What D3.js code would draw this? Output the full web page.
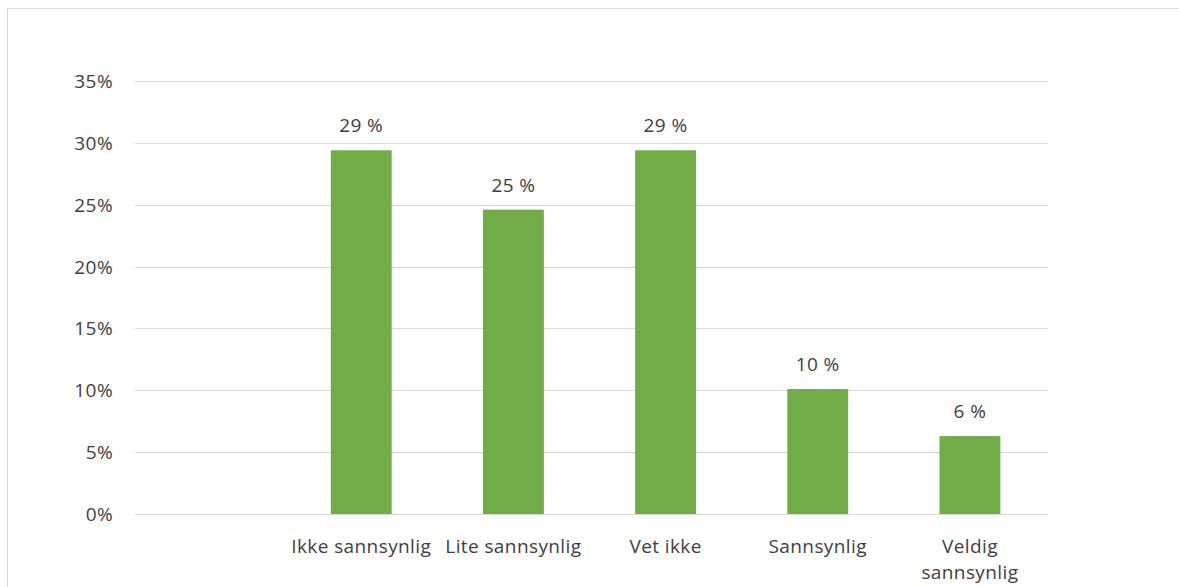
<html>
<head>
    <style>
        body { margin: 0; background: white; font-family: "Open Sans", sans-serif; }
        svg { display: block; }
        text { letter-spacing: 0.4px; }
    </style>
    <script src="https://cdn.jsdelivr.net/npm/d3@7"></script>
</head>
<body>
<svg id="chart"></svg>
<script>

    // categories (first slot is empty in the original chart)
    let categories = ["", "Ikke sannsynlig", "Lite sannsynlig", "Vet ikke", "Sannsynlig", "Veldig sannsynlig"]
    let values = [null, 0.294, 0.246, 0.294, 0.101, 0.063]
    let valueLabels = ["", "29 %", "25 %", "29 %", "10 %", "6 %"]
    let yTicks = [0, 0.05, 0.10, 0.15, 0.20, 0.25, 0.30, 0.35]

    let width = 1179
    let height = 587
    let margin = {top: 81, left: 135, right: 131, bottom: 73}

    let svg = d3.select("#chart")
        .attr("width", width)
        .attr("height", height)

    // chart area border (top and left visible)
    svg.append("line").attr("x1", 7).attr("x2", width).attr("y1", 8.5).attr("y2", 8.5)
        .attr("stroke", "#d9d9d9")
    svg.append("line").attr("x1", 7.5).attr("x2", 7.5).attr("y1", 8).attr("y2", height)
        .attr("stroke", "#d9d9d9")

    let x = d3.scaleBand()
        .domain(categories.map((c, i) => i))
        .range([margin.left - 2, width - margin.right - 2])
        .paddingInner(0.6)
        .paddingOuter(0.3)

    let y = d3.scaleLinear()
        .domain([0, 0.35])
        .range([height - margin.bottom, margin.top])

    // gridlines
    svg.append("g").selectAll("line").data(yTicks)
        .enter().append("line")
        .attr("x1", margin.left)
        .attr("x2", width - margin.right)
        .attr("y1", d => Math.round(y(d)) + 0.5)
        .attr("y2", d => Math.round(y(d)) + 0.5)
        .attr("stroke", "#d9d9d9")
        .attr("stroke-width", 1)

    // y axis labels
    svg.append("g").selectAll("text").data(yTicks)
        .enter().append("text")
        .attr("x", 113)
        .attr("y", d => y(d) + 7)
        .attr("text-anchor", "end")
        .attr("fill", "#404040")
        .style("font-size", "19px")
        .text(d => Math.round(d * 100) + "%")

    let data = categories.map((c, i) => ({i: i, name: c, value: values[i], label: valueLabels[i]}))
        .filter(d => d.value != null)

    svg.append("g").selectAll("rect").data(data)
        .enter().append("rect")
        .attr("x", d => x(d.i))
        .attr("width", x.bandwidth())
        .attr("y", d => y(d.value))
        .attr("height", d => y(0) - y(d.value))
        .attr("fill", "#70ad47")

    svg.append("g").selectAll("text").data(data)
        .enter().append("text")
        .attr("x", d => x(d.i) + x.bandwidth() / 2)
        .attr("y", d => y(d.value) - 18)
        .attr("text-anchor", "middle")
        .attr("fill", "#404040")
        .style("font-size", "19px")
        .text(d => d.label)

    // category labels, wrapped like the original
    let labelLines = {
        "Veldig sannsynlig": ["Veldig", "sannsynlig"]
    }
    let catG = svg.append("g").selectAll("text").data(data)
        .enter().append("text")
        .attr("x", d => x(d.i) + x.bandwidth() / 2)
        .attr("y", 553)
        .attr("text-anchor", "middle")
        .attr("fill", "#404040")
        .style("font-size", "19px")

    catG.each(function(d) {
        let lines = labelLines[d.name] || [d.name]
        let t = d3.select(this)
        lines.forEach((l, k) => {
            t.append("tspan")
                .attr("x", x(d.i) + x.bandwidth() / 2)
                .attr("dy", k == 0 ? 0 : 26)
                .text(l)
        })
    })

</script>
</body>
</html>
